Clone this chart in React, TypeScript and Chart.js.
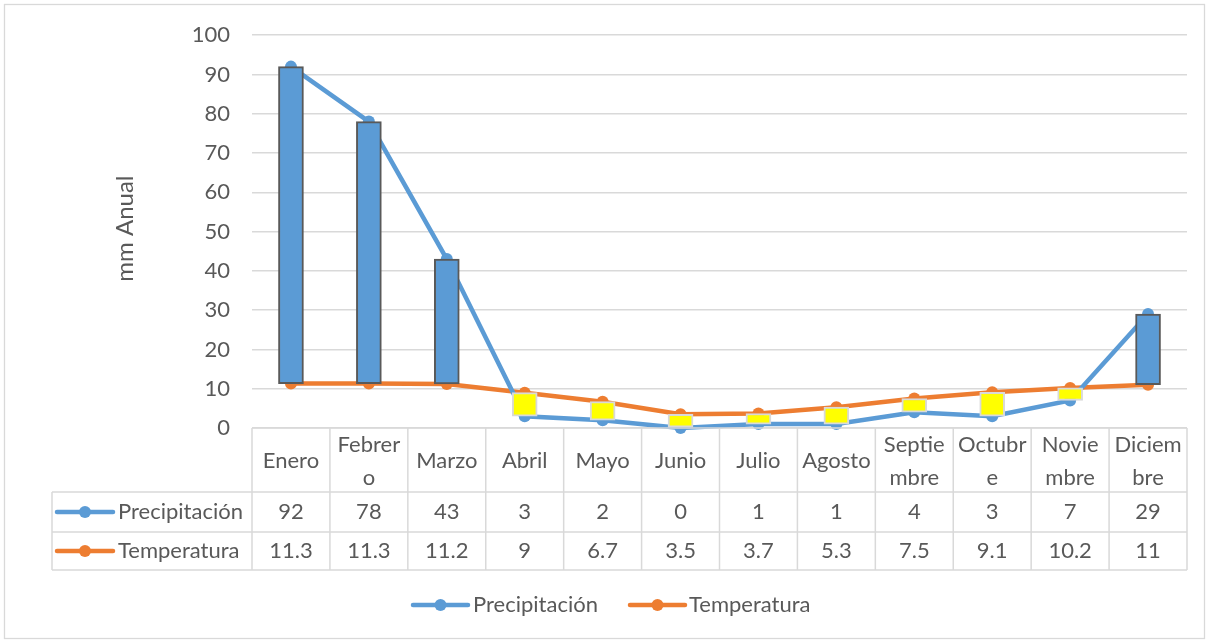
import React, { useEffect, useRef } from "react";
import { Chart, registerables } from "chart.js";

Chart.register(...registerables);

const months: string[][] = [
  ["Enero"], ["Febrer", "o"], ["Marzo"], ["Abril"], ["Mayo"], ["Junio"],
  ["Julio"], ["Agosto"], ["Septie", "mbre"], ["Octubr", "e"], ["Novie", "mbre"], ["Diciem", "bre"],
];
const precipitacion: number[] = [92, 78, 43, 3, 2, 0, 1, 1, 4, 3, 7, 29];
const temperatura: number[] = [11.3, 11.3, 11.2, 9, 6.7, 3.5, 3.7, 5.3, 7.5, 9.1, 10.2, 11];
const precipLabel = "Precipitación";
const tempLabel = "Temperatura";
const yTitle = "mm Anual";

const BLUE = "#5B9BD5";
const ORANGE = "#ED7D31";
const TEXT = "#595959";
const GRID = "#D9D9D9";
const FONT = "Lato, 'Open Sans', sans-serif";
const FS = 22;

export default function App() {
  const ref = useRef<HTMLCanvasElement | null>(null);
  useEffect(() => {
    const canvas = ref.current!;
    const labels = months.map((m) => m.join(""));
    const drawKey = (ctx: CanvasRenderingContext2D, x0: number, x1: number, y: number, color: string) => {
      ctx.save();
      ctx.strokeStyle = color;
      ctx.lineWidth = 4.5;
      ctx.lineCap = "round";
      ctx.beginPath();
      ctx.moveTo(x0, y);
      ctx.lineTo(x1, y);
      ctx.stroke();
      ctx.fillStyle = color;
      ctx.beginPath();
      ctx.arc((x0 + x1) / 2, y, 6, 0, Math.PI * 2);
      ctx.fill();
      ctx.restore();
    };
    const plugin = {
      id: "excelExtras",
      beforeDraw(chart: any) {
        const ctx = chart.ctx as CanvasRenderingContext2D;
        ctx.save();
        ctx.fillStyle = "#fff";
        ctx.fillRect(0, 0, chart.width, chart.height);
        ctx.strokeStyle = GRID;
        ctx.lineWidth = 1.3;
        ctx.strokeRect(4.5, 4.5, chart.width - 9, chart.height - 9);
        ctx.restore();
      },
      afterDraw(chart: any) {
        const ctx = chart.ctx as CanvasRenderingContext2D;
        const area = chart.chartArea;
        const xs = chart.scales.x;
        const n = labels.length;
        const step = (area.right - area.left) / n;
        const top = area.bottom;
        const r1 = top + 64;
        const r2 = r1 + 40;
        const r3 = r2 + 38;
        const leftX = 52;
        ctx.save();
        ctx.strokeStyle = GRID;
        ctx.lineWidth = 1.5;
        ctx.beginPath();
        ctx.moveTo(area.left, top); ctx.lineTo(area.right, top);
        ctx.moveTo(leftX, r1); ctx.lineTo(area.right, r1);
        ctx.moveTo(leftX, r2); ctx.lineTo(area.right, r2);
        ctx.moveTo(leftX, r3); ctx.lineTo(area.right, r3);
        ctx.moveTo(leftX, r1); ctx.lineTo(leftX, r3);
        for (let i = 0; i <= n; i++) {
          const x = area.left + i * step;
          ctx.moveTo(x, top); ctx.lineTo(x, r3);
        }
        ctx.stroke();
        ctx.fillStyle = TEXT;
        ctx.font = `${FS}px ${FONT}`;
        ctx.textAlign = "center";
        ctx.textBaseline = "middle";
        months.forEach((m, i) => {
          const cx = xs.getPixelForValue(i);
          const lh = 33;
          const mid = (top + r1) / 2 + 1;
          m.forEach((line, j) => {
            ctx.fillText(line, cx, mid + (j - (m.length - 1) / 2) * lh);
          });
          ctx.fillText(String(precipitacion[i]), cx, (r1 + r2) / 2);
          ctx.fillText(String(temperatura[i]), cx, (r2 + r3) / 2);
        });
        // row headers
        drawKey(ctx, 57, 113, (r1 + r2) / 2, BLUE);
        drawKey(ctx, 57, 113, (r2 + r3) / 2, ORANGE);
        ctx.textAlign = "left";
        ctx.fillText(precipLabel, 118, (r1 + r2) / 2);
        ctx.fillText(tempLabel, 118, (r2 + r3) / 2);
        // legend
        const ly = 605;
        drawKey(ctx, 413, 468, ly, BLUE);
        ctx.fillText(precipLabel, 473, ly);
        drawKey(ctx, 630, 685, ly, ORANGE);
        ctx.fillText(tempLabel, 689, ly);
        // y title
        ctx.translate(125, (area.top + area.bottom) / 2 - 3);
        ctx.rotate(-Math.PI / 2);
        ctx.textAlign = "center";
        ctx.font = `24px ${FONT}`;
        ctx.fillText(yTitle, 0, 0);
        ctx.restore();
      },
    };
    const chart = new Chart(canvas, {
      type: "line",
      data: {
        labels,
        datasets: [
          {
            type: "bar",
            label: "updown",
            data: precipitacion.map((p, i) => [temperatura[i], p]) as any,
            backgroundColor: precipitacion.map((p, i) => (p >= temperatura[i] ? BLUE : "#FFFF00")),
            borderColor: precipitacion.map((p, i) => (p >= temperatura[i] ? "#595959" : "#D9D9D9")),
            borderWidth: 2,
            borderSkipped: false,
            barThickness: 25,
            order: 0,
          } as any,
          {
            type: "line",
            label: precipLabel,
            data: precipitacion,
            borderColor: BLUE,
            backgroundColor: BLUE,
            borderWidth: 4.5,
            pointRadius: 6,
            pointBorderWidth: 0,
            pointBackgroundColor: BLUE,
            tension: 0,
            clip: false as any,
            order: 1,
          },
          {
            type: "line",
            label: tempLabel,
            data: temperatura,
            borderColor: ORANGE,
            backgroundColor: ORANGE,
            borderWidth: 4.5,
            pointRadius: 6,
            pointBorderWidth: 0,
            pointBackgroundColor: ORANGE,
            tension: 0,
            clip: false as any,
            order: 2,
          },
        ],
      },
      options: {
        responsive: false,
        animation: false,
        layout: { padding: { left: 0, right: 22, top: 34, bottom: 215 } },
        plugins: { legend: { display: false }, tooltip: { enabled: false } },
        scales: {
          x: { display: false, offset: true },
          y: {
            min: 0,
            max: 100,
            ticks: { stepSize: 10, color: TEXT, font: { size: FS, family: FONT }, padding: 22 },
            grid: { color: GRID, lineWidth: 1.5, drawTicks: false },
            border: { display: false },
            afterFit: (s: any) => { s.width = 252; },
          },
        },
      },
      plugins: [plugin],
    });
    return () => chart.destroy();
  }, []);
  return (
    <div style={{ position: "fixed", left: 0, top: 0, width: 1209, height: 643, background: "#fff" }}>
      <canvas ref={ref} width={1209} height={643} style={{ display: "block" }} />
    </div>
  );
}
